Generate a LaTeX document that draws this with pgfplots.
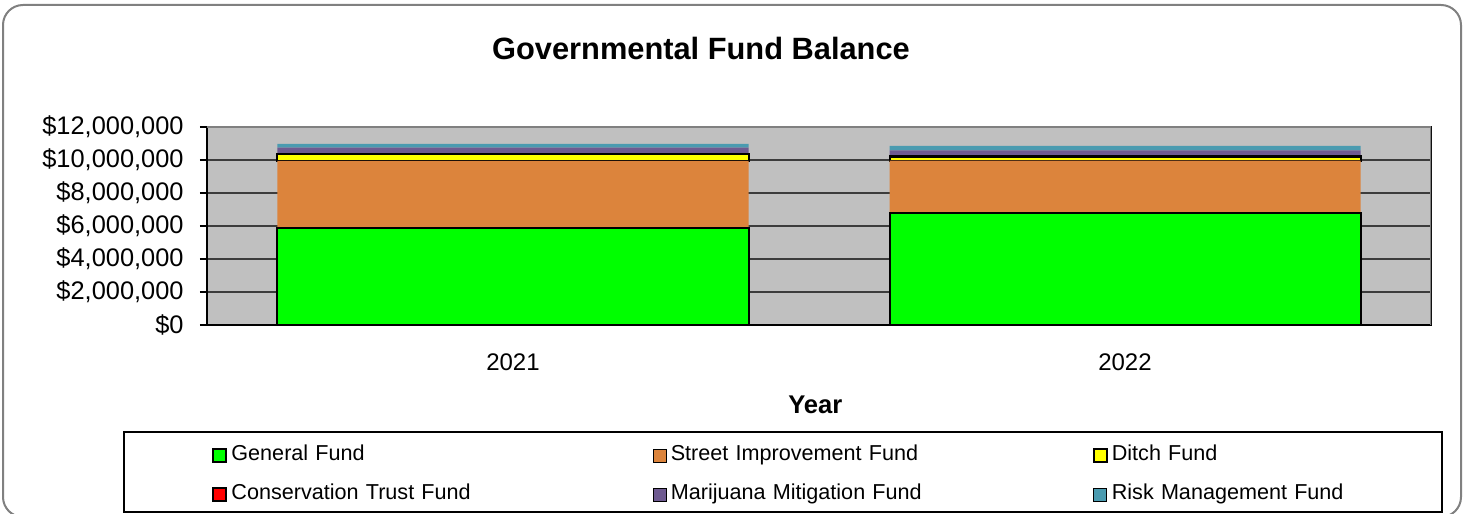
\documentclass[border=0pt]{standalone}
\usepackage{pgfplots}
\pgfplotsset{compat=1.18}
\usepackage{pgfplotstable}
\usepackage{fontspec}
\setmainfont{Liberation Sans}

\definecolor{plotgray}{RGB}{192,192,192}
\definecolor{framegray}{RGB}{128,128,128}
\definecolor{gridgray}{RGB}{60,60,60}
\definecolor{fundgreen}{RGB}{0,255,0}
\definecolor{streetorange}{RGB}{220,132,60}
\definecolor{ditchyellow}{RGB}{255,255,0}
\definecolor{trustred}{RGB}{255,0,0}
\definecolor{mjpurple}{RGB}{110,90,144}
\definecolor{riskteal}{RGB}{74,155,176}

% fund balances by year (0 = 2021, 1 = 2022)
\pgfplotstableread{
year general street ditch trust marijuana risk
0 5900000 4050000 400000 20000 380000 220000
1 6770000 3190000 250000 40000 330000 270000
}\funds

\begin{document}
\begin{tikzpicture}[x=0.5pt,y=0.5pt]
% chart frame
\draw[framegray, line width=1pt, rounded corners=10pt] (3,-3) rectangle (1461,509);
\node[font=\bfseries\fontsize{15.4}{18}\selectfont] at (701,466) {Governmental Fund Balance};
% legend box
\draw[black, line width=0.6pt] (124,2) rectangle (1442,82);

\begin{axis}[
    at={(103.5pt,94.5pt)}, anchor=south west,
    scale only axis, width=612pt, height=99pt,
    ybar stacked, bar width=235.5pt,
    xmin=-0.5, xmax=1.5, ymin=0, ymax=12000000,
    axis background/.style={fill=plotgray},
    axis line style={black, line width=0.75pt},
    tick pos=left, tick align=outside,
    xtick={0,1}, xticklabels={2021,2022},
    x tick style={draw=none},
    extra x ticks={-0.5,0.5,1.5}, extra x tick labels={},
    extra x tick style={grid=none, major tick length=4pt, tick style={draw=black, line width=0.6pt}},
    xticklabel style={font=\fontsize{12}{14}\selectfont, anchor=center, yshift=-15pt},
    ytick={0,2000000,4000000,6000000,8000000,10000000,12000000},
    yticklabels={{\$0},{\$2,000,000},{\$4,000,000},{\$6,000,000},{\$8,000,000},{\$10,000,000},{\$12,000,000}},
    scaled y ticks=false,
    y tick style={draw=black, line width=0.6pt},
    major tick length=3.5pt,
    yticklabel style={font=\fontsize{12.7}{14}\selectfont, anchor=east, inner xsep=0pt, xshift=-8pt},
    ymajorgrids, grid style={gridgray, line width=0.75pt},
    xlabel={Year},
    xlabel style={font=\bfseries\fontsize{12.8}{15}\selectfont, at={(axis description cs:0.497,0)}, anchor=center, yshift=-40pt},
    legend columns=3,
    legend cell align=left,
    legend image code/.code={\draw[#1] (0pt,-3.25pt) rectangle (6.5pt,3.25pt); \path (8.5pt,0pt);},
    legend style={draw=none, fill=none, inner sep=0pt,
        at={(axis description cs:0.0041,-0.6086)}, anchor=north west,
        row sep=10pt,
        nodes={inner sep=0pt, text width=211pt, align=left, text height=7.5pt, text depth=2pt,
            font=\fontsize{10.8}{13}\selectfont}},
]
\addplot[fill=fundgreen, draw=black, line width=1pt] table[x=year, y=general] {\funds};
\addlegendentry{General Fund}
\addplot[fill=streetorange, draw=none] table[x=year, y=street] {\funds};
\addlegendentry{Street Improvement Fund}
\addplot[fill=ditchyellow, draw=black, line width=1pt] table[x=year, y=ditch] {\funds};
\addlegendentry{Ditch Fund}
\addplot[fill=trustred, draw=black, line width=1pt] table[x=year, y=trust] {\funds};
\addlegendentry{Conservation Trust Fund}
\addplot[fill=mjpurple, draw=none] table[x=year, y=marijuana] {\funds};
\addlegendentry{Marijuana Mitigation Fund}
\addplot[fill=riskteal, draw=none] table[x=year, y=risk] {\funds};
\addlegendentry{Risk Management Fund}
\draw[framegray, line width=1.5pt] (rel axis cs:0,1) -- (rel axis cs:1,1) -- (rel axis cs:1,0);
\end{axis}
\pgfresetboundingbox
\useasboundingbox (0,0) rectangle (1463,514);
\end{tikzpicture}
\end{document}
